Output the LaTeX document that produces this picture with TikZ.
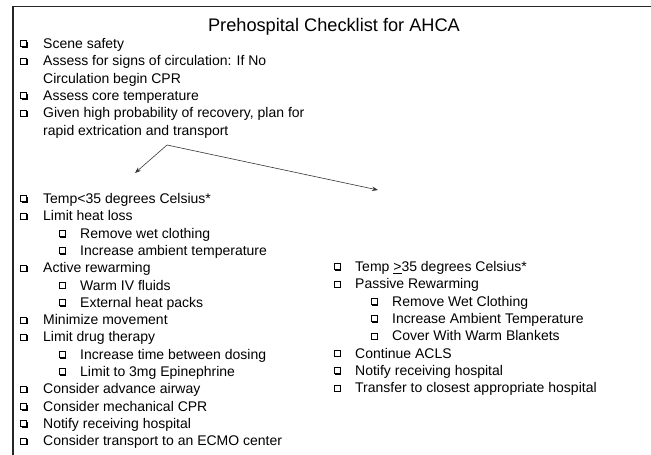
\documentclass[tikz,border=0pt]{standalone}
\usepackage{fontspec}
\setmainfont{Liberation Sans}
\usetikzlibrary{arrows.meta,shadows}
\tikzset{
 itemtext/.style={anchor=base west, inner sep=0pt, font=\fontsize{14}{16}\selectfont},
 titletext/.style={anchor=base, inner sep=0pt, font=\fontsize{18.2}{20}\selectfont},
 cbox/.style={draw=black, fill=white, line width=0.75pt, minimum size=6pt, inner sep=0pt,
   general shadow={shadow xshift=1.1pt, shadow yshift=-1.1pt, fill=black}},
 conn/.style={draw=black!80, line width=0.6pt, -{Stealth[length=6pt,width=4.5pt]}},
 frameline/.style={line width=1.6pt, draw=black!85},
}
\newcommand{\ckitem}[5]{%
 \node[cbox] (#1b) at (#2, #4-4.7) {};
 \node[itemtext] (#1) at (#3, #4) {#5};}
\begin{document}
\begin{tikzpicture}[x=1pt,y=-1pt]
\useasboundingbox (0,0) rectangle (651,455);
\draw[frameline] (13,455) -- (13,6.5) -- (651,6.5);
\node[titletext] (title) at (334,31.5) {Prehospital Checklist for AHCA};
% top list
\ckitem{a1}{23.5}{43}{48.5}{Scene safety}
\ckitem{a2}{23.5}{43}{65.8}{Assess for signs of circulation: If No}
\node[itemtext] (a2b2) at (43,83.1) {Circulation begin CPR};
\ckitem{a3}{23.5}{43}{100.5}{Assess core temperature}
\ckitem{a4}{23.5}{43}{117.8}{Given high probability of recovery, plan for}
\node[itemtext] (a4b2) at (43,135.1) {rapid extrication and transport};
% arrows
\coordinate (split) at (167,145);
\coordinate (lt) at (135,173);
\coordinate (rt) at (378,190);
\draw[conn] (split) -- (lt);
\draw[conn] (split) -- (rt);
% left column
\ckitem{b1}{23.5}{43}{203.5}{Temp<35 degrees Celsius*}
\ckitem{b2}{23.5}{43}{220.8}{Limit heat loss}
\ckitem{b3}{62}{80}{238.1}{Remove wet clothing}
\ckitem{b4}{62}{80}{255.4}{Increase ambient temperature}
\ckitem{b5}{23.5}{43}{272.7}{Active rewarming}
\ckitem{b6}{62}{80}{290}{Warm IV fluids}
\ckitem{b7}{62}{80}{307.3}{External heat packs}
\ckitem{b8}{23.5}{43}{324.6}{Minimize movement}
\ckitem{b9}{23.5}{43}{341.9}{Limit drug therapy}
\ckitem{b10}{62}{80}{359.2}{Increase time between dosing}
\ckitem{b11}{62}{80}{376.5}{Limit to 3mg Epinephrine}
\ckitem{b12}{23.5}{43}{393.8}{Consider advance airway}
\ckitem{b13}{23.5}{43}{411.1}{Consider mechanical CPR}
\ckitem{b14}{23.5}{43}{428.4}{Notify receiving hospital}
\ckitem{b15}{23.5}{43}{445.7}{Consider transport to an ECMO center}
% right column
\ckitem{c1}{337}{355}{271.5}{Temp \underline{>}35 degrees Celsius*}
\ckitem{c2}{337}{355}{288.8}{Passive Rewarming}
\ckitem{c3}{374}{392}{306.1}{Remove Wet Clothing}
\ckitem{c4}{374}{392}{323.4}{Increase Ambient Temperature}
\ckitem{c5}{374}{392}{340.7}{Cover With Warm Blankets}
\ckitem{c6}{337}{355}{358}{Continue ACLS}
\ckitem{c7}{337}{355}{375.3}{Notify receiving hospital}
\ckitem{c8}{337}{355}{392.6}{Transfer to closest appropriate hospital}
\end{tikzpicture}
\end{document}
